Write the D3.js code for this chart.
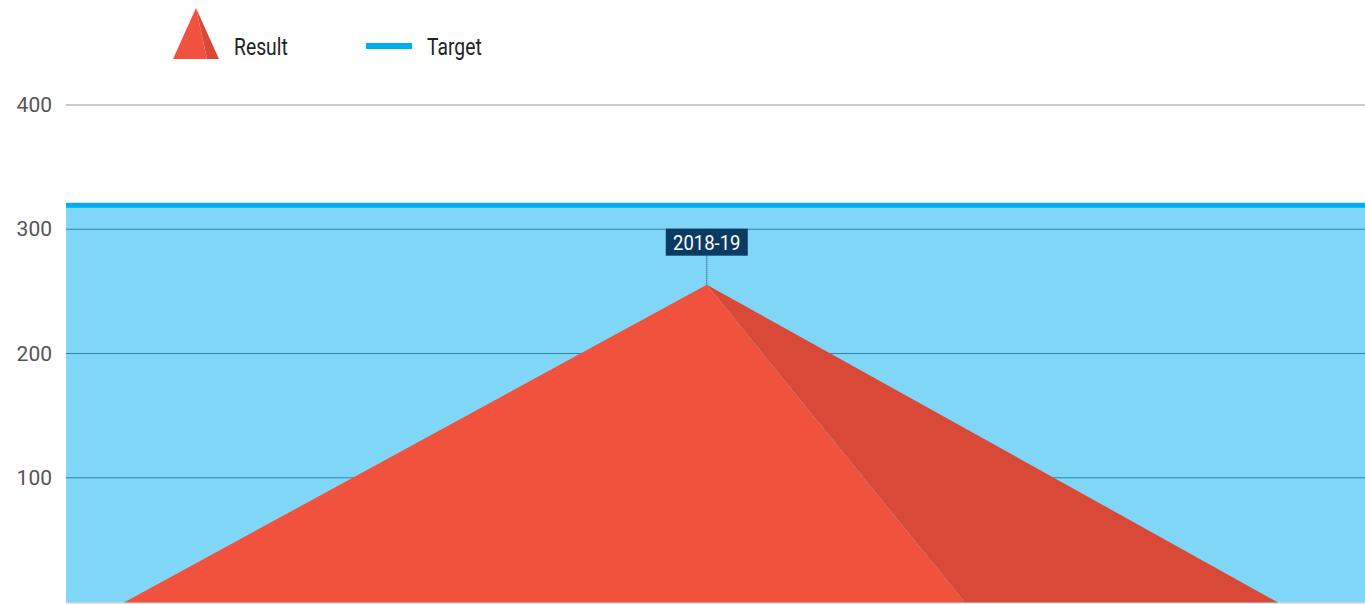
<!DOCTYPE html>
<html>
<head>
<meta charset="utf-8">
<script src="https://cdn.jsdelivr.net/npm/d3@7"></script>
<style>
  body { margin: 0; background: #fff; }
  svg text { font-family: Roboto, sans-serif; }
</style>
</head>
<body>
<div id="chart"></div>
<script>
// data //
var categories = ["2018-19"];
var resultValues = [255];
var targetValues = [319];
var yTicks = [100, 200, 300, 400];
var legendLabels = ["Result", "Target"];

var W = 1365, H = 604;
var plot = { left: 66, right: 1365, top: 104.5, bottom: 601.5 };

var svg = d3.select("#chart").append("svg")
    .attr("width", W)
    .attr("height", H);

var x = d3.scaleBand()
    .domain(categories)
    .range([plot.left, plot.right])
    .padding(0.0591)
    .align(0.4);

var y = d3.scaleLinear()
    .domain([0, 400])
    .range([plot.bottom, plot.top]);

// target area + line
svg.append("rect")
    .attr("x", plot.left)
    .attr("y", y(targetValues[0]))
    .attr("width", plot.right - plot.left)
    .attr("height", y(0) - y(targetValues[0]) + 1)
    .attr("fill", "#7fd6f7");

// grid
var yAxis = d3.axisLeft(y)
    .tickValues(yTicks)
    .tickSize(-(plot.right - plot.left))
    .tickPadding(14);

var gAxis = svg.append("g")
    .attr("transform", "translate(" + plot.left + ",0)")
    .call(yAxis);
gAxis.select(".domain").remove();
gAxis.selectAll(".tick line")
    .attr("stroke", function (d) { return d < targetValues[0] ? "#2f86a6" : "#999"; })
    .attr("stroke-width", 1);
gAxis.selectAll(".tick text")
    .attr("fill", "#555")
    .attr("font-size", 21)
    .attr("dy", "0.34em");

svg.append("line")
    .attr("x1", plot.left).attr("x2", plot.right)
    .attr("y1", y(0) + 1.5).attr("y2", y(0) + 1.5)
    .attr("stroke", "#c8c8c8")
    .attr("stroke-width", 1);

svg.append("line")
    .attr("x1", plot.left).attr("x2", plot.right)
    .attr("y1", y(targetValues[0])).attr("y2", y(targetValues[0]))
    .attr("stroke", "#00aeef")
    .attr("stroke-width", 5);

// pyramid
var bx = x(categories[0]), bw = x.bandwidth();
var apex = [bx + bw * 0.505, y(resultValues[0])];
var baseL = [bx, y(0) + 1],
    baseM = [bx + bw * 0.7288, y(0) + 1],
    baseR = [bx + bw, y(0) + 1];

svg.append("path")
    .attr("d", "M" + [baseM, apex, baseR].join("L") + "Z")
    .attr("fill", "#d84a37");
svg.append("path")
    .attr("d", "M" + [baseL, apex, baseM].join("L") + "Z")
    .attr("fill", "#f0523e");

// category label
var lab = svg.append("g")
    .attr("transform", "translate(" + apex[0] + "," + apex[1] + ")");
lab.append("line")
    .attr("y1", 0).attr("y2", -29)
    .attr("stroke", "#0b3a63")
    .attr("stroke-dasharray", "1,1");
lab.append("rect")
    .attr("x", -41).attr("y", -56)
    .attr("width", 82).attr("height", 27)
    .attr("fill", "#0b3a63");
lab.append("text")
    .attr("transform", "translate(0,-35) scale(0.88,1)")
    .attr("text-anchor", "middle")
    .attr("fill", "#fff")
    .attr("font-size", 21)
    .text(categories[0]);

// legend
var leg = svg.append("g");
leg.append("path")
    .attr("d", "M173,59L196,8L207,59Z")
    .attr("fill", "#f0523e");
leg.append("path")
    .attr("d", "M207,59L196,8L219,59Z")
    .attr("fill", "#d84a37");
leg.append("text")
    .attr("transform", "translate(234,55) scale(0.84,1)")
    .attr("fill", "#222")
    .attr("font-size", 23)
    .text(legendLabels[0]);
leg.append("rect")
    .attr("x", 366).attr("y", 43)
    .attr("width", 46).attr("height", 6)
    .attr("fill", "#00aeef");
leg.append("text")
    .attr("transform", "translate(427,55) scale(0.84,1)")
    .attr("fill", "#222")
    .attr("font-size", 23)
    .text(legendLabels[1]);
</script>
</body>
</html>
